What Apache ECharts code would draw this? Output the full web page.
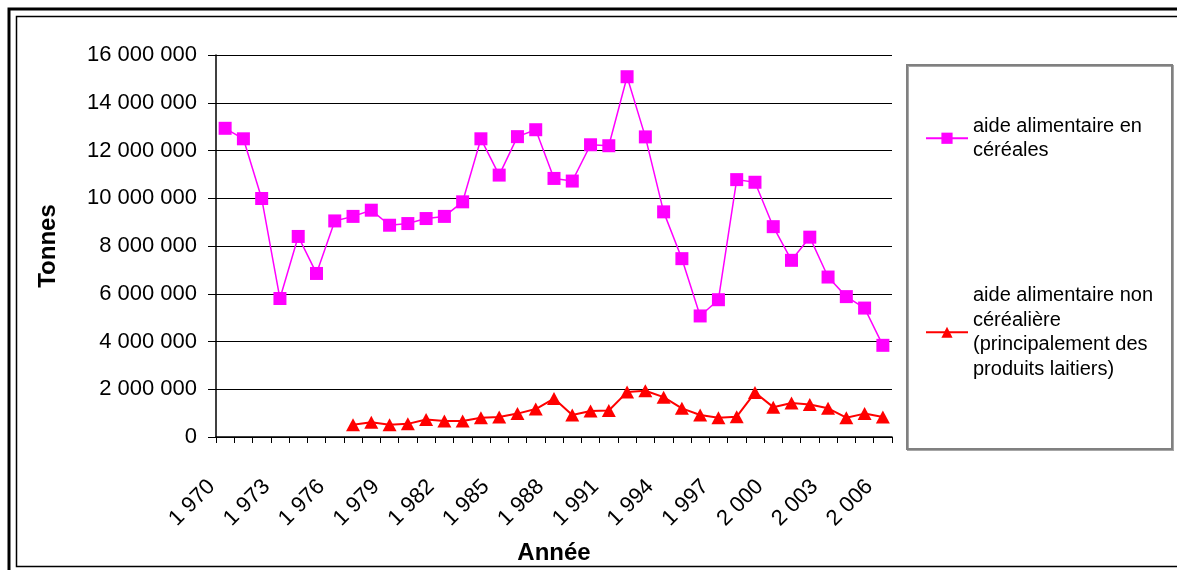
<!DOCTYPE html>
<html><head><meta charset="utf-8">
<script src="https://cdn.jsdelivr.net/npm/echarts@6/dist/echarts.min.js"></script>
<style>html,body{margin:0;padding:0;background:#fff}#c{width:1177px;height:570px}</style>
</head><body><div id="c"></div>
<script>
const years = [1970,1971,1972,1973,1974,1975,1976,1977,1978,1979,1980,1981,1982,1983,1984,1985,1986,1987,1988,1989,1990,1991,1992,1993,1994,1995,1996,1997,1998,1999,2000,2001,2002,2003,2004,2005,2006];
const cereals = [12930000,12490000,9990000,5800000,8400000,6850000,9050000,9240000,9500000,8870000,8940000,9150000,9240000,9850000,12490000,10970000,12580000,12870000,10830000,10720000,12240000,12200000,15090000,12570000,9430000,7470000,5070000,5750000,10780000,10670000,8810000,7400000,8370000,6700000,5880000,5400000,3840000];
const nonCereals = [null,null,null,null,null,null,null,510000,620000,510000,550000,730000,670000,670000,810000,840000,980000,1170000,1610000,920000,1090000,1110000,1880000,1940000,1670000,1200000,920000,810000,850000,1860000,1250000,1420000,1360000,1200000,810000,980000,840000];
const yTicks = [0,2000000,4000000,6000000,8000000,10000000,12000000,14000000,16000000];
const seriesNames = ['aide alimentaire en céréales','aide alimentaire non céréalière (principalement des produits laitiers)'];
const legendLines = [
  ['aide alimentaire en','céréales'],
  ['aide alimentaire non','céréalière','(principalement des','produits laitiers)']
];
const xTitle = 'Année';
const yTitle = 'Tonnes';

function spaced(s){ return String(s).replace(/\B(?=(\d{3})+(?!\d))/g, ' '); }
const LH = 24.5;
const FONT = 'Liberation Sans';

const chart = echarts.init(document.getElementById('c'), null, {renderer:'canvas'});
chart.setOption({
  animation: false,
  backgroundColor: '#fff',
  grid: { left: 216, right: 285, top: 55, bottom: 128, containLabel: false },
  xAxis: {
    type: 'category', data: years.map(String), boundaryGap: true,
    name: xTitle, nameLocation: 'middle', nameGap: 104,
    nameTextStyle: { fontFamily: FONT, fontWeight: 'bold', fontSize: 24, color: '#000' },
    axisLine: { lineStyle: { color: '#000', width: 1.5 } },
    axisTick: { show: true, interval: 0, length: 6, lineStyle: { color: '#000', width: 1 } },
    axisLabel: {
      interval: 2, rotate: 45, margin: 33, padding: [0, 19, 0, 0], color: '#000', fontSize: 22, fontFamily: FONT,
      showMinLabel: true, showMaxLabel: true, hideOverlap: false,
      formatter: v => spaced(v)
    },
    splitLine: { show: false }
  },
  yAxis: {
    type: 'value', min: yTicks[0], max: yTicks[yTicks.length-1], interval: yTicks[1]-yTicks[0],
    name: yTitle, nameLocation: 'middle', nameGap: 156, nameRotate: 90,
    nameTextStyle: { fontFamily: FONT, fontWeight: 'bold', fontSize: 24, color: '#000' },
    axisLine: { show: true, lineStyle: { color: '#000', width: 1.5 } },
    axisTick: { show: true, length: 8, lineStyle: { color: '#000', width: 1 } },
    axisLabel: { margin: 19, color: '#000', fontSize: 22, fontFamily: FONT,
      formatter: v => spaced(v) },
    splitLine: { show: true, lineStyle: { color: '#000', width: 1 } }
  },
  legend: [
    {
      data: [{ name: seriesNames[0], textStyle: { padding: [LH*(legendLines[0].length-1),0,0,0] } }],
      orient: 'vertical', left: 925, top: 126 - LH*(legendLines[0].length-1), padding: 0,
      itemWidth: 42, itemHeight: 14, selectedMode: false,
      textStyle: { fontFamily: FONT, fontSize: 20, lineHeight: LH, color: '#000' },
      formatter: n => legendLines[seriesNames.indexOf(n)].join('\n')
    },
    {
      data: [{ name: seriesNames[1], textStyle: { padding: [LH*(legendLines[1].length-1),0,0,0] } }],
      orient: 'vertical', left: 925, top: 320 - LH*(legendLines[1].length-1), padding: 0,
      itemWidth: 42, itemHeight: 14, selectedMode: false,
      textStyle: { fontFamily: FONT, fontSize: 20, lineHeight: LH, color: '#000' },
      formatter: n => legendLines[seriesNames.indexOf(n)].join('\n')
    }
  ],
  series: [
    {
      name: seriesNames[0], type: 'line', data: cereals,
      symbol: 'rect', symbolSize: 13, showAllSymbol: true,
      lineStyle: { color: '#ff00ff', width: 1.5 },
      itemStyle: { color: '#ff00ff' }, z: 3
    },
    {
      name: seriesNames[1], type: 'line', data: nonCereals,
      symbol: 'triangle', symbolSize: [14, 13], showAllSymbol: true, connectNulls: false,
      lineStyle: { color: '#ff0000', width: 2 },
      itemStyle: { color: '#ff0000' }, z: 4
    }
  ],
  graphic: [
    { type: 'rect', shape: { x: 9, y: 9, width: 1250, height: 650 }, style: { fill: 'none', stroke: '#000', lineWidth: 3 }, z: 0 },
    { type: 'rect', shape: { x: 16.5, y: 16.5, width: 1250, height: 550 }, style: { fill: 'none', stroke: '#000', lineWidth: 1.5 }, z: 0 },
    { type: 'rect', shape: { x: 907, y: 65, width: 265, height: 384 }, style: { fill: '#fff', stroke: '#808080', lineWidth: 2, shadowColor: 'rgba(0,0,0,0.35)', shadowOffsetX: 1, shadowOffsetY: 1, shadowBlur: 0 }, z: -1 }
  ]
});
</script></body></html>
